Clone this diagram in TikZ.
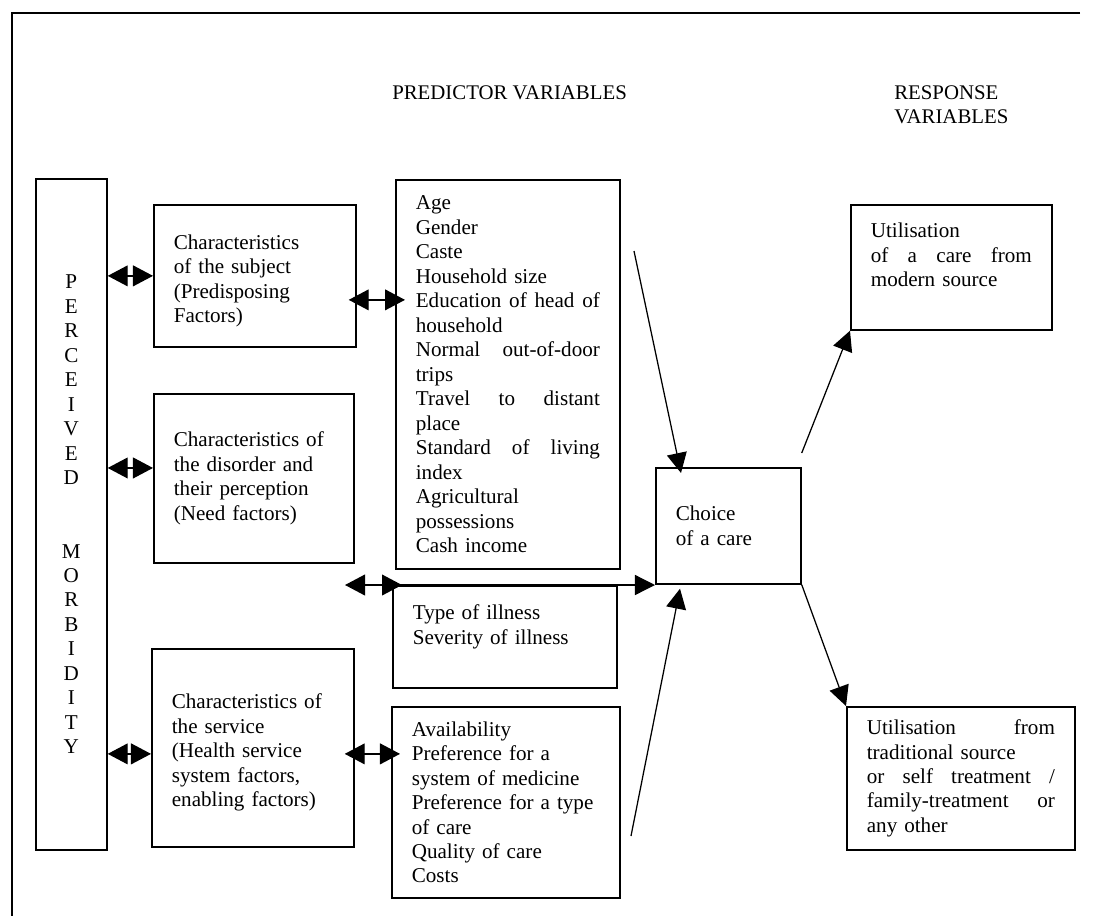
\documentclass[tikz,border=0pt]{standalone}
\usepackage{fontspec}
\setmainfont{Liberation Serif}
\usetikzlibrary{arrows.meta}

\begin{document}
\begin{tikzpicture}[x=0.025cm, y=-0.025cm, font=\fontsize{15}{17.4}\selectfont,
	box/.style = {draw, line width=1.2pt, anchor=north west, inner xsep=0.5cm, inner ysep=0pt, align=left},
	head/.style = {font=\fontsize{14.8}{17.2}\selectfont, inner sep=0pt, anchor=west, align=left},
	dbl/.style = {{Triangle[length=5mm,width=5.2mm]}-{Triangle[length=5mm,width=5.2mm]}, line width=1pt},
	arr/.style = {-{Triangle[length=5mm,width=5mm]}, line width=0.9pt}]
		\useasboundingbox (0,0) rectangle (1101,916);
		\draw[line width=1.2pt] (1080,13) -- (12,13) -- (12,916);
		
		\node[head] (pred) at (392,93) {PREDICTOR VARIABLES};
		\node[head] (resp) at (894,105) {RESPONSE\\VARIABLES};
		
		\node[box, align=center, inner xsep=0pt, text width=1.775cm, minimum height=16.775cm] (perc) at (35,178) {P\\E\\R\\C\\E\\I\\V\\E\\D\\[34.8pt]M\\O\\R\\B\\I\\D\\I\\T\\Y};
		\node[box, text width=4.05cm, minimum height=3.55cm] (subj) at (153,204) {\mbox{}\\Characteristics\\of the subject\\(Predisposing\\Factors)};
		\node[box, text width=4cm, minimum height=4.225cm] (dis) at (153,393) {Characteristics of\\the disorder and\\their perception\\(Need factors)};
		\node[box, text width=4.05cm, minimum height=4.95cm] (serv) at (151,648) {\mbox{}\\Characteristics of\\the service\\(Health service\\system factors,\\enabling factors)};
		\node[box, text width=4.6cm, minimum height=9.725cm] (age) at (395,179) {Age\\Gender\\Caste\\Household size\\Education\hfill of\hfill head\hfill of\\household\\Normal\hfill out-of-door\\trips\\Travel\hfill to\hfill distant\\place\\Standard\hfill of\hfill living\\index\\Agricultural\\possessions\\Cash income};
		\node[box, text width=4.6cm, minimum height=2.55cm] (ill) at (392,585) {Type of illness\\Severity of illness\\\mbox{}};
		\node[box, text width=4.7cm, minimum height=4.775cm] (avail) at (391,706) {Availability\\Preference for a\\system of medicine\\Preference for a type\\of care\\Quality of care\\Costs};
		\node[box, text width=2.625cm, minimum height=2.9cm] (choice) at (655,467) {Choice\\of a care};
		\node[box, text width=4.025cm, minimum height=3.125cm] (modern) at (850,204) {Utilisation\\of\hfill a\hfill care\hfill from\\modern source\\\mbox{}};
		\node[box, text width=4.7cm, minimum height=3.575cm] (trad) at (846,706) {Utilisation\hfill from\\traditional source\\or\hfill self\hfill treatment\hfill /\\family-treatment\hfill or\\any other};
		
		\coordinate (subjr) at ([yshift=-6mm]subj.east);
		\coordinate (disy) at ([yshift=2.6mm]dis.west);
		\coordinate (servy) at ([yshift=-1.5mm]serv.west);
		\coordinate (servr) at ([yshift=-1.5mm]serv.east);
		\coordinate (illfrom) at (345,585);
		\coordinate (agefrom) at (634,251);
		\coordinate (availfrom) at (631,836);
		
		\draw[dbl] (subj.west -| perc.east) -- (subj.west);
		\draw[dbl] (disy -| perc.east) -- (disy);
		\draw[dbl] (servy -| perc.east) -- (servy);
		\draw[dbl, shorten <=-2mm, shorten >=-2.5mm] (subjr) -- (subjr -| age.west);
		\draw[dbl, shorten <=-2.5mm, shorten >=-2.25mm] (servr) -- (servr -| avail.west);
		\draw[dbl] (illfrom) -- ([xshift=2.5mm]ill.north west);
		\draw[arr] (ill.north west) -- (ill.north west -| choice.west);
		\draw[arr] (agefrom) -- ([xshift=6.5mm,yshift=-1.5mm]choice.north west);
		\draw[arr] (availfrom) -- ([xshift=6.25mm,yshift=-1mm]choice.south west);
		\draw[arr] ([yshift=3.5mm]choice.north east) -- (modern.south west);
		\draw[arr] (choice.south east) -- (trad.north west);
	\end{tikzpicture}
\end{document}
